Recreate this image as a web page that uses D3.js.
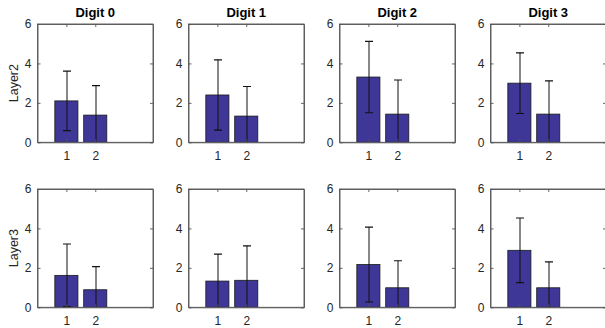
<!DOCTYPE html>
<html><head><meta charset="utf-8">
<script src="https://cdn.jsdelivr.net/npm/d3@7"></script>
<style>body{margin:0;background:#fff}svg{display:block}</style>
</head><body><div id="c"></div>
<script>
const digits = ["Digit 0", "Digit 1", "Digit 2", "Digit 3"];
const layers = ["Layer2", "Layer3"];
const categories = [1, 2];
const xTicks = [1, 2];
const yTicks = [0, 2, 4, 6];
const layer2Means = [[2.10, 1.38], [2.40, 1.33], [3.31, 1.43], [3.00, 1.43]];
const layer2Errs  = [[1.51, 1.49], [1.78, 1.50], [1.81, 1.73], [1.54, 1.69]];
const layer3Means = [[1.62, 0.89], [1.33, 1.37], [2.17, 0.99], [2.89, 0.99]];
const layer3Errs  = [[1.59, 1.17], [1.37, 1.75], [1.90, 1.37], [1.64, 1.31]];
const means = [layer2Means, layer3Means];
const errs = [layer2Errs, layer3Errs];

const W = 605, H = 328;
const svg = d3.select("#c").append("svg").attr("width", W).attr("height", H)
  .style("font-family", "'Liberation Sans', Arial, sans-serif");

const colLeft = [37.5, 188.5, 339.5, 490.5];
const rowTop = [24, 189];
const pw = 115.5, ph = 118.3;
const axisColor = "#555";
const textColor = "#262626";
const barFill = "#3f3797";

const x = d3.scaleLinear().domain([0, 4]).range([0, pw]);
const y = d3.scaleLinear().domain([0, 6]).range([ph, 0]);
const bw = x(0.8) - x(0);

layers.forEach((layer, r) => {
  digits.forEach((dg, c) => {
    const g = svg.append("g").attr("transform", `translate(${colLeft[c]},${rowTop[r]})`);
    const cid = `clip${r}${c}`;
    g.append("clipPath").attr("id", cid).append("rect")
      .attr("x", 0).attr("y", 0).attr("width", pw).attr("height", ph);
    const plot = g.append("g").attr("clip-path", `url(#${cid})`);
    const data = categories.map((k, i) => ({k, m: means[r][c][i], e: errs[r][c][i]}));
    plot.selectAll("rect.bar").data(data).join("rect").attr("class", "bar")
      .attr("x", d => x(d.k) - bw / 2).attr("width", bw)
      .attr("y", d => y(d.m)).attr("height", d => y(0) - y(d.m))
      .attr("fill", barFill).attr("stroke", "#1a1a1a").attr("stroke-width", 0.8);
    const capW = 4;
    data.forEach(d => {
      const cx = Math.round(x(d.k)) + 0.5;
      const lo = d.m - d.e, hi = d.m + d.e;
      plot.append("line").attr("x1", cx).attr("x2", cx).attr("y1", y(lo)).attr("y2", y(hi))
        .attr("stroke", "#111").attr("stroke-width", 1);
      [lo, hi].forEach(v => {
        plot.append("line").attr("x1", cx - capW).attr("x2", cx + capW)
          .attr("y1", y(v)).attr("y2", y(v)).attr("stroke", "#111").attr("stroke-width", 1.2);
      });
    });
    g.append("rect").attr("x", 0).attr("y", 0).attr("width", pw).attr("height", ph)
      .attr("fill", "none").attr("stroke", axisColor).attr("stroke-width", 0.9);
    const ab = g.append("g").attr("transform", `translate(0,${ph})`)
      .call(d3.axisBottom(x).tickValues(xTicks).tickSizeInner(-3).tickSizeOuter(0).tickPadding(9).tickFormat(d3.format("d")));
    const at = g.append("g")
      .call(d3.axisTop(x).tickValues(xTicks).tickSizeInner(-3).tickSizeOuter(0).tickFormat(""));
    const al = g.append("g")
      .call(d3.axisLeft(y).tickValues(yTicks).tickSizeInner(-3).tickSizeOuter(0).tickPadding(6).tickFormat(d3.format("d")));
    const ar = g.append("g").attr("transform", `translate(${pw},0)`)
      .call(d3.axisRight(y).tickValues(yTicks).tickSizeInner(-3).tickSizeOuter(0).tickFormat(""));
    [ab, at, al, ar].forEach(a => {
      a.select(".domain").attr("stroke", axisColor).attr("stroke-width", 0.9);
      a.selectAll(".tick line").attr("stroke", axisColor).attr("stroke-width", 0.9);
      a.selectAll("text").attr("fill", textColor).style("font-size", "12px")
        .style("font-family", "'Liberation Sans', Arial, sans-serif");
    });
    if (r === 0) {
      g.append("text").attr("x", pw / 2).attr("y", -7).attr("text-anchor", "middle")
        .style("font-size", "13px").style("font-weight", "bold").attr("fill", "#000").text(dg);
    }
    if (c === 0) {
      g.append("text").attr("transform", `translate(-20,${ph / 2}) rotate(-90)`)
        .attr("text-anchor", "middle").style("font-size", "12.5px").attr("fill", textColor).text(layer);
    }
  });
});
</script></body></html>
